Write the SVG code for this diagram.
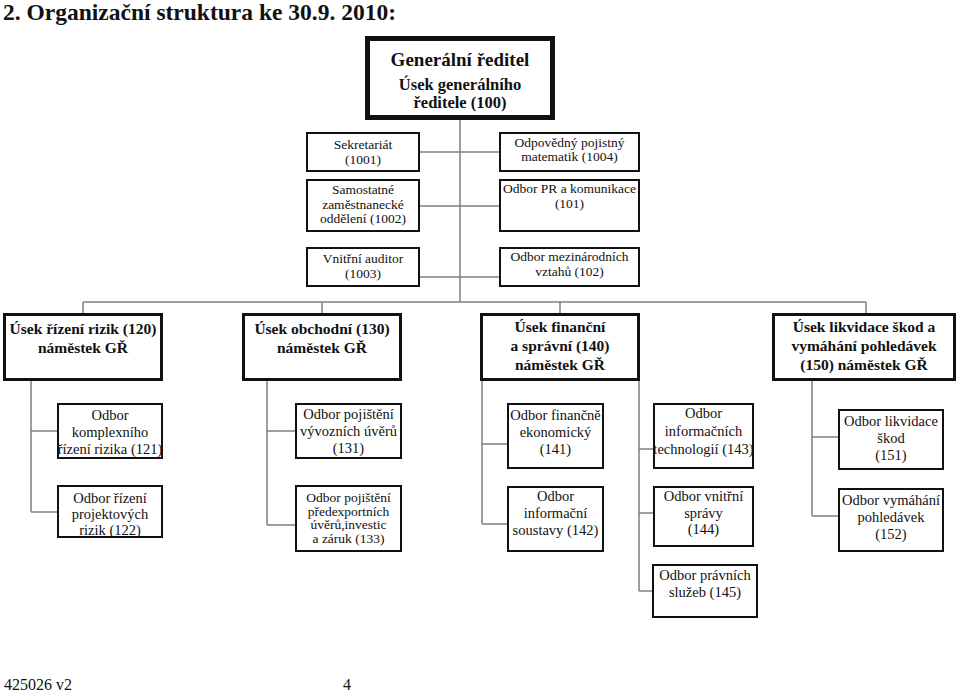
<svg xmlns="http://www.w3.org/2000/svg" width="960" height="692" viewBox="0 0 960 692" font-family="Liberation Serif, Tinos, Times New Roman, DejaVu Serif, serif">
<style>
text{font-family:"Liberation Serif",Tinos,"Times New Roman","DejaVu Serif",serif;fill:#111;text-anchor:middle}
.t{font-size:23.5px;font-weight:bold;text-anchor:start}
.gr{font-size:19px;font-weight:bold}
.gs{font-size:16.5px;font-weight:bold}
.s{font-size:13.5px}
.u{font-size:15.5px;font-weight:bold}
.o{font-size:14.5px}
.p{font-size:13.5px}
.f{font-size:16px;text-anchor:start}
.bx{fill:#fff;stroke:#111;stroke-width:2}
.bu{fill:#fff;stroke:#111;stroke-width:3}
.bg{fill:#fff;stroke:#111;stroke-width:5}
#connectors path{fill:none;stroke:#808080;stroke-width:1.5}
</style>
<rect width="960" height="692" fill="#fff"/>
<text class="t" x="3" y="20">2. Organizační struktura ke 30.9. 2010:</text>

<g id="connectors">
<path d="M460 118V302"/>
<path d="M420 152H499M420 206H499M420 277H499"/>
<path d="M83 302H866M83 302V313M322 302V313M560 302V313M866 302V313"/>
<path d="M31 381V512M31 431H57M31 512H57"/>
<path d="M267 381V525M267 431H295M267 525H295"/>
<path d="M482 381V524M482 444H507M482 524H507"/>
<path d="M639 381V591M639 449H653M639 513H653M639 591H652"/>
<path d="M812 381V516M812 437H838M812 516H838"/>
</g>

<g id="n100"><rect class="bg" x="367.5" y="38.5" width="185" height="79"/>
<text class="gr" x="460" y="66">Generální ředitel</text>
<text class="gs" x="460" y="90">Úsek generálního</text>
<text class="gs" x="460" y="108">ředitele (100)</text></g>

<g id="n1001"><rect class="bx" x="307" y="133" width="112" height="38"/>
<text class="s" x="363" y="149">Sekretariát</text><text class="s" x="363" y="164">(1001)</text></g>
<g id="n1002"><rect class="bx" x="307" y="180" width="112" height="51"/>
<text class="s" x="363" y="194">Samostatné</text><text class="s" x="363" y="208.5">zaměstnanecké</text><text class="s" x="363" y="223">oddělení (1002)</text></g>
<g id="n1003"><rect class="bx" x="307" y="248" width="112" height="38"/>
<text class="s" x="363" y="263">Vnitřní auditor</text><text class="s" x="363" y="278">(1003)</text></g>
<g id="n1004"><rect class="bx" x="500" y="133" width="139" height="38"/>
<text class="s" x="569.5" y="147">Odpovědný pojistný</text><text class="s" x="569.5" y="161">matematik (1004)</text></g>
<g id="n101"><rect class="bx" x="500" y="180" width="139" height="51"/>
<text class="s" x="569.5" y="193">Odbor PR a komunikace</text><text class="s" x="569.5" y="208">(101)</text></g>
<g id="n102"><rect class="bx" x="500" y="248" width="139" height="38"/>
<text class="s" x="569.5" y="261">Odbor mezinárodních</text><text class="s" x="569.5" y="276">vztahů (102)</text></g>

<g id="n120"><rect class="bu" x="4.5" y="314.5" width="157" height="65"/>
<text class="u" x="83" y="334">Úsek řízení rizik (120)</text><text class="u" x="83" y="353">náměstek GŘ</text></g>
<g id="n130"><rect class="bu" x="243.5" y="314.5" width="157" height="65"/>
<text class="u" x="322" y="334">Úsek obchodní (130)</text><text class="u" x="322" y="353">náměstek GŘ</text></g>
<g id="n140"><rect class="bu" x="481.5" y="314.5" width="157" height="65"/>
<text class="u" x="560" y="332">Úsek finanční</text><text class="u" x="560" y="351">a správní (140)</text><text class="u" x="560" y="370">náměstek GŘ</text></g>
<g id="n150"><rect class="bu" x="773.5" y="314.5" width="181" height="65"/>
<text class="u" x="864" y="332">Úsek likvidace škod a</text><text class="u" x="864" y="351">vymáhání pohledávek</text><text class="u" x="864" y="370">(150) náměstek GŘ</text></g>

<g id="n121"><rect class="bx" x="58" y="404" width="104" height="54"/>
<text class="o" x="110" y="420">Odbor</text><text class="o" x="110" y="437">komplexního</text><text class="o" x="110" y="454">řízení rizika (121)</text></g>
<g id="n122"><rect class="bx" x="58" y="486" width="104" height="51"/>
<text class="o" x="110" y="503">Odbor řízení</text><text class="o" x="110" y="519">projektových</text><text class="o" x="110" y="535">rizik (122)</text></g>
<g id="n131"><rect class="bx" x="296" y="404" width="105" height="54"/>
<text class="o" x="348.5" y="419">Odbor pojištění</text><text class="o" x="348.5" y="436">vývozních úvěrů</text><text class="o" x="348.5" y="453">(131)</text></g>
<g id="n133"><rect class="bx" x="296" y="486" width="105" height="65"/>
<text class="p" x="348.5" y="502">Odbor pojištění</text><text class="p" x="348.5" y="515.5">předexportních</text><text class="p" x="348.5" y="529">úvěrů,investic</text><text class="p" x="348.5" y="543">a záruk (133)</text></g>
<g id="n141"><rect class="bx" x="508" y="404" width="95" height="64"/>
<text class="o" x="555.5" y="420">Odbor finančně</text><text class="o" x="555.5" y="437">ekonomický</text><text class="o" x="555.5" y="454">(141)</text></g>
<g id="n142"><rect class="bx" x="508" y="487" width="95" height="64"/>
<text class="o" x="555.5" y="501">Odbor</text><text class="o" x="555.5" y="518">informační</text><text class="o" x="555.5" y="535">soustavy (142)</text></g>
<g id="n143"><rect class="bx" x="654" y="404" width="99" height="64"/>
<text class="o" x="703.5" y="418">Odbor</text><text class="o" x="703.5" y="435.5">informačních</text><text class="o" x="703.5" y="454">technologií (143)</text></g>
<g id="n144"><rect class="bx" x="654" y="487" width="99" height="59"/>
<text class="o" x="703.5" y="501">Odbor vnitřní</text><text class="o" x="703.5" y="517.5">správy</text><text class="o" x="703.5" y="534">(144)</text></g>
<g id="n145"><rect class="bx" x="653" y="565" width="104" height="52"/>
<text class="o" x="705" y="580">Odbor právních</text><text class="o" x="705" y="597">služeb (145)</text></g>
<g id="n151"><rect class="bx" x="839" y="410" width="104" height="59"/>
<text class="o" x="891" y="426">Odbor likvidace</text><text class="o" x="891" y="443">škod</text><text class="o" x="891" y="460">(151)</text></g>
<g id="n152"><rect class="bx" x="839" y="489" width="104" height="62"/>
<text class="o" x="891" y="505">Odbor vymáhání</text><text class="o" x="891" y="522">pohledávek</text><text class="o" x="891" y="539">(152)</text></g>

<text class="f" x="4" y="690">425026 v2</text>
<text class="f" x="343" y="690">4</text>
</svg>
